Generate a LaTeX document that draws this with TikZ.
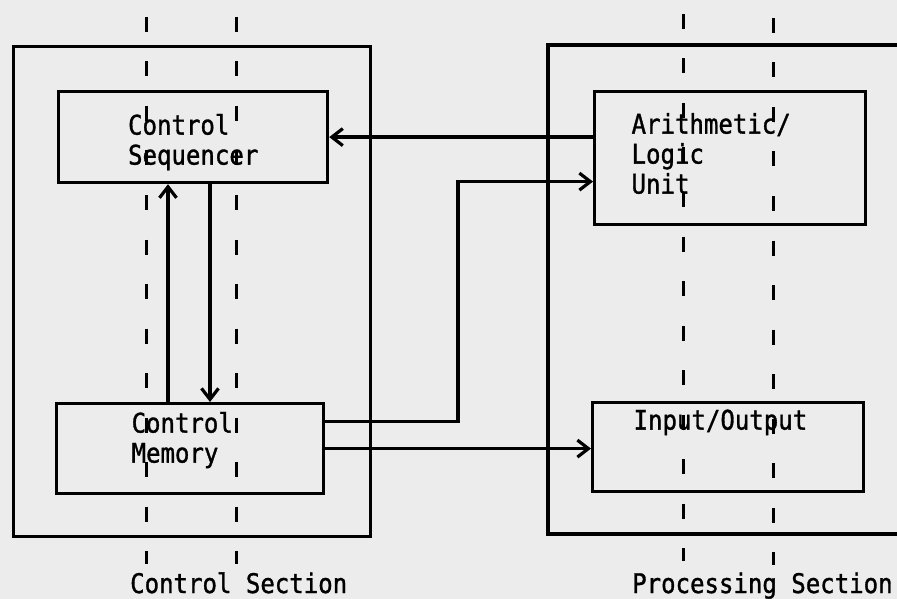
\documentclass[tikz,border=0pt]{standalone}
\usepackage{fontspec}
\newfontfamily\typew[FakeStretch=0.89,FakeBold=1.2]{DejaVu Sans Mono}
\usetikzlibrary{arrows.meta,calc}
\definecolor{paper}{RGB}{236,236,236}
\tikzset{
  frame/.style={draw, line width=3.2pt, inner sep=0pt, anchor=north west},
  unitbox/.style={draw, line width=3.2pt, inner sep=0pt, align=left,
    font=\typew\fontsize{27}{30}\selectfont, anchor=north west},
  guide/.style={line width=3pt, dash pattern=on 15pt off 29.5pt},
  link/.style={line width=3.2pt},
  arr/.style={link, -{Straight Barb[length=11pt,width=17pt]}},
  caption/.style={font=\typew\fontsize{27}{30}\selectfont, inner sep=0pt, anchor=base west}
}
\begin{document}
\begin{tikzpicture}[x=1pt,y=-1pt]
\fill[paper] (0,0) rectangle (897,599);
\useasboundingbox (0,0) rectangle (897,599);

% section frames
\node[frame, minimum width=357pt, minimum height=490pt] (ctrl) at (12,45) {};
\draw[link] (897,45) -| (548,534) -- (897,534);

% dashed guide lines
\draw[guide] (146,17) -- (146,564);
\draw[guide] (236,17) -- (236,564);
\draw[guide] (683,14) -- (683,561);
\draw[guide] (773,18) -- (773,565);

% units
\node[unitbox, minimum width=269pt, text width=130pt, text height=43pt, text depth=48pt]
  (cs) at (57,90) {Control\\Sequencer};
\node[unitbox, minimum width=267pt, text width=117pt, text height=29pt, text depth=61pt]
  (cm) at (55,402) {Control\\Memory};
\node[unitbox, minimum width=271pt, text width=197pt, text height=42pt, text depth=91pt]
  (alu) at (593,90) {Arithmetic/\\Logic\\Unit};
\node[unitbox, minimum width=271pt, text width=189pt, text height=27pt, text depth=62pt]
  (io) at (591,401) {Input/Output};

% captions
\node[caption] (csec) at (130,593) {Control Section};
\node[caption] (psec) at (632,593) {Processing Section};

% connectors
\coordinate (upx) at (168,0);
\coordinate (dnx) at (210,0);
\coordinate (bend) at (458,0);
\coordinate (aluin) at ([yshift=-23.5pt]alu.west);
\draw[arr] (cm.north -| upx) -- (cs.south -| upx);
\draw[arr] (cs.south -| dnx) -- (cm.north -| dnx);
\draw[arr] (alu.west |- cs.east) -- (cs.east);
\draw[arr] ([yshift=27pt]cm.east) -| (bend |- aluin) -- (aluin);
\draw[arr] (cm.east) -- (cm.east -| io.west);
\end{tikzpicture}
\end{document}
